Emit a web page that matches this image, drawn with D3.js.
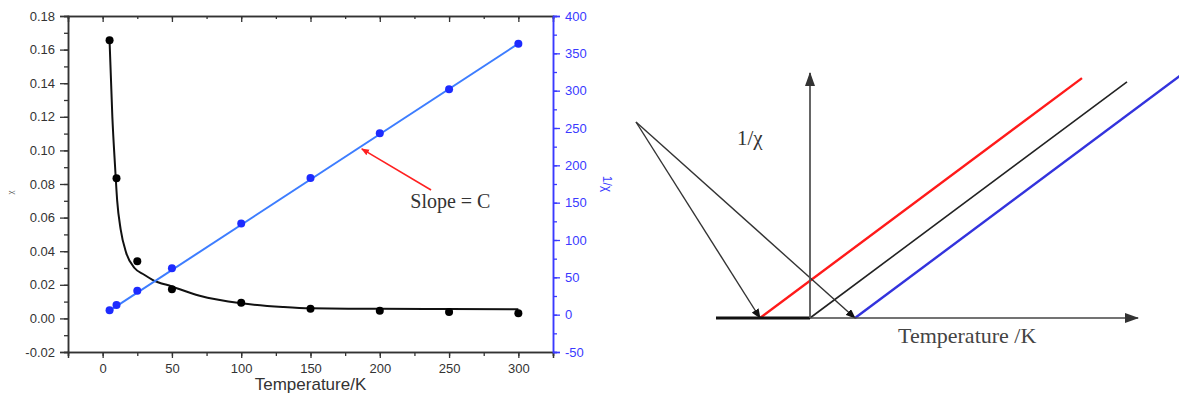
<!DOCTYPE html>
<html>
<head>
<meta charset="utf-8">
<script src="https://cdn.jsdelivr.net/npm/d3@7"></script>
<style>
  html, body { margin: 0; padding: 0; background: #fff; }
  svg { display: block; }
</style>
</head>
<body>
<div id="chart"></div>
<script>
// measured susceptibility (left panel)
const temps = [5, 10, 25, 50, 100, 150, 200, 250, 300];
const chiValues = [0.1655, 0.0834, 0.034, 0.0173, 0.0093, 0.0058, 0.0045, 0.0038, 0.003];
const invChiValues = [6, 13, 32, 62, 122, 183, 243, 302, 363];
// fitted curves
const chiFitT = [5, 7, 9, 10.5, 13, 17, 23, 30, 36, 50, 70, 100, 130, 150, 200, 250, 300];
const chiFitV = [0.165, 0.12, 0.09, 0.07, 0.053, 0.039, 0.03, 0.026, 0.023, 0.019, 0.0135, 0.009, 0.0068, 0.006, 0.0057, 0.0056, 0.0055];
const invFitT = [4, 300];
const invFitV = [4, 363];

const xTicks = [0, 50, 100, 150, 200, 250, 300];
const xMinor = d3.range(-25, 326, 25);
const yLeftTicks = [-0.02, 0, 0.02, 0.04, 0.06, 0.08, 0.10, 0.12, 0.14, 0.16, 0.18];
const yLeftMinor = d3.range(-0.02, 0.1801, 0.01);
const yRightTicks = [-50, 0, 50, 100, 150, 200, 250, 300, 350, 400];
const yRightMinor = d3.range(-50, 401, 25);

// schematic (right panel): Curie-Weiss lines 1/chi = (T - theta)/C
const cwTheta = [-50, 0, 45];
const cwEndT = [272, 317, 372];
const cwColors = ["#ff1a1a", "#222222", "#3333dd"];
const cwSlope = 0.745;
const apex = [-174, 196];

const W = 1179, H = 394;
let svg = d3.select("#chart").append("svg")
  .attr("width", W)
  .attr("height", H);

// ---------- left panel ----------
let margin = {top: 16, right: 626, bottom: 42, left: 68};
let x = d3.scaleLinear().domain([-25, 325]).range([margin.left, W - margin.right]);
let yL = d3.scaleLinear().domain([-0.02, 0.18]).range([H - margin.bottom, margin.top]);
let yR = d3.scaleLinear().domain([-50, 400]).range([H - margin.bottom, margin.top]);

const axisGrey = "#333";
const blueAxis = "#3a3aff";

function styleAxis(g, color) {
  g.select(".domain").attr("stroke", color).attr("stroke-width", 1.5);
  g.selectAll(".tick line").attr("stroke", color).attr("stroke-width", 1.3);
  g.selectAll(".tick text")
    .attr("fill", color)
    .style("font-family", "'Liberation Sans', Arial, sans-serif")
    .style("font-size", "13px");
}

// bottom
svg.append("g").attr("transform", `translate(0,${yL.range()[0]})`)
  .call(d3.axisBottom(x).tickValues(xMinor).tickSize(4).tickFormat(""))
  .call(g => styleAxis(g, axisGrey));
svg.append("g").attr("transform", `translate(0,${yL.range()[0]})`)
  .call(d3.axisBottom(x).tickValues(xTicks).tickSize(6).tickPadding(6).tickFormat(d => d))
  .call(g => styleAxis(g, axisGrey));
// top (mirror, ticks inside)
svg.append("g").attr("transform", `translate(0,${margin.top})`)
  .call(d3.axisBottom(x).tickValues(xMinor).tickSize(3).tickFormat(""))
  .call(g => styleAxis(g, axisGrey));
svg.append("g").attr("transform", `translate(0,${margin.top})`)
  .call(d3.axisBottom(x).tickValues(xTicks).tickSize(6).tickFormat(""))
  .call(g => styleAxis(g, axisGrey));
// left
svg.append("g").attr("transform", `translate(${margin.left},0)`)
  .call(d3.axisLeft(yL).tickValues(yLeftMinor).tickSize(4).tickFormat(""))
  .call(g => styleAxis(g, axisGrey));
svg.append("g").attr("transform", `translate(${margin.left},0)`)
  .call(d3.axisLeft(yL).tickValues(yLeftTicks).tickSize(8).tickPadding(5).tickFormat(d => d.toFixed(2)))
  .call(g => styleAxis(g, axisGrey));
// right (blue)
svg.append("g").attr("transform", `translate(${x.range()[1]},0)`)
  .call(d3.axisRight(yR).tickValues(yRightMinor).tickSize(4).tickFormat(""))
  .call(g => styleAxis(g, blueAxis));
svg.append("g").attr("transform", `translate(${x.range()[1]},0)`)
  .call(d3.axisRight(yR).tickValues(yRightTicks).tickSize(7).tickPadding(5).tickFormat(d => d))
  .call(g => styleAxis(g, blueAxis));

// axis titles
svg.append("text")
  .attr("x", (x.range()[0] + x.range()[1]) / 2)
  .attr("y", 390)
  .attr("text-anchor", "middle")
  .attr("fill", axisGrey)
  .style("font-family", "'Liberation Sans', Arial, sans-serif")
  .style("font-size", "17px")
  .text("Temperature/K");
svg.append("text")
  .attr("transform", `translate(13,${yL(0.075)}) rotate(-90)`)
  .attr("text-anchor", "middle")
  .attr("fill", "#555")
  .style("font-family", "'Liberation Serif', serif")
  .style("font-size", "9px")
  .text("χ");
svg.append("text")
  .attr("transform", `translate(603,${yR(175)}) rotate(90)`)
  .attr("text-anchor", "middle")
  .attr("fill", blueAxis)
  .style("font-family", "'Liberation Sans', Arial, sans-serif")
  .style("font-size", "12px")
  .text("1/χ");

// fits
let chiFit = chiFitT.map((t, i) => [t, chiFitV[i]]);
svg.append("path")
  .datum(chiFit)
  .attr("fill", "none")
  .attr("stroke", "#111")
  .attr("stroke-width", 2)
  .attr("d", d3.line().x(d => x(d[0])).y(d => yL(d[1])).curve(d3.curveMonotoneX));

let invFit = invFitT.map((t, i) => [t, invFitV[i]]);
svg.append("path")
  .datum(invFit)
  .attr("fill", "none")
  .attr("stroke", "#3d7dff")
  .attr("stroke-width", 2)
  .attr("d", d3.line().x(d => x(d[0])).y(d => yR(d[1])));

// points
svg.append("g").selectAll("circle")
  .data(temps.map((t, i) => [t, chiValues[i]]))
  .join("circle")
  .attr("cx", d => x(d[0]))
  .attr("cy", d => yL(d[1]))
  .attr("r", 4)
  .attr("fill", "#000");
svg.append("g").selectAll("circle")
  .data(temps.map((t, i) => [t, invChiValues[i]]))
  .join("circle")
  .attr("cx", d => x(d[0]))
  .attr("cy", d => yR(d[1]))
  .attr("r", 4)
  .attr("fill", "#1d2bff");

// slope annotation
let defs = svg.append("defs");
defs.append("marker")
  .attr("id", "redhead")
  .attr("viewBox", "0 0 10 10")
  .attr("refX", 9).attr("refY", 5)
  .attr("markerWidth", 5).attr("markerHeight", 5)
  .attr("orient", "auto")
  .append("path").attr("d", "M0,1 L10,5 L0,9 Z").attr("fill", "#ff2020");
svg.append("line")
  .attr("x1", x(237)).attr("y1", yR(167))
  .attr("x2", x(187)).attr("y2", yR(222))
  .attr("stroke", "#ff2020")
  .attr("stroke-width", 1.6)
  .attr("marker-end", "url(#redhead)");
svg.append("text")
  .attr("x", x(222))
  .attr("y", 208)
  .attr("fill", "#333")
  .style("font-family", "'Liberation Serif', 'Times New Roman', serif")
  .style("font-size", "20px")
  .text("Slope = C");

// ---------- right panel (schematic) ----------
let sX = d3.scaleLinear().domain([-94, 369]).range([716, 1179]);
let sY = d3.scaleLinear().domain([0, 250]).range([318, 68]);

defs.append("marker")
  .attr("id", "axhead")
  .attr("viewBox", "0 0 14 10")
  .attr("refX", 13).attr("refY", 5)
  .attr("markerWidth", 14).attr("markerHeight", 10)
  .attr("markerUnits", "userSpaceOnUse")
  .attr("orient", "auto")
  .append("path").attr("d", "M0,0 L14,5 L0,10 Z").attr("fill", "#333");
defs.append("marker")
  .attr("id", "smallhead")
  .attr("viewBox", "0 0 10 8")
  .attr("refX", 9).attr("refY", 4)
  .attr("markerWidth", 10).attr("markerHeight", 8)
  .attr("markerUnits", "userSpaceOnUse")
  .attr("orient", "auto")
  .append("path").attr("d", "M0,0 L10,4 L0,8 Z").attr("fill", "#111");

// Curie-Weiss lines
svg.append("g").selectAll("line")
  .data(cwTheta.map((th, i) => ({theta: th, end: cwEndT[i], color: cwColors[i]})))
  .join("line")
  .attr("x1", d => sX(d.theta)).attr("y1", sY(0))
  .attr("x2", d => sX(d.end)).attr("y2", d => sY((d.end - d.theta) * cwSlope))
  .attr("stroke", d => d.color)
  .attr("stroke-width", d => d.theta === 0 ? 1.6 : 2.4);

// construction lines from apex to the two intercepts
svg.append("g").selectAll("line")
  .data([cwTheta[0], cwTheta[2]])
  .join("line")
  .attr("x1", sX(apex[0])).attr("y1", sY(apex[1]))
  .attr("x2", d => sX(d)).attr("y2", sY(0))
  .attr("stroke", "#333")
  .attr("stroke-width", 1.4)
  .attr("marker-end", "url(#smallhead)");

// axes
svg.append("line")
  .attr("x1", sX(-94)).attr("y1", sY(0))
  .attr("x2", sX(0)).attr("y2", sY(0))
  .attr("stroke", "#111").attr("stroke-width", 3);
svg.append("line")
  .attr("x1", sX(0)).attr("y1", sY(0))
  .attr("x2", sX(328)).attr("y2", sY(0))
  .attr("stroke", "#444").attr("stroke-width", 1.6)
  .attr("marker-end", "url(#axhead)");
svg.append("line")
  .attr("x1", sX(0)).attr("y1", sY(0))
  .attr("x2", sX(0)).attr("y2", sY(245))
  .attr("stroke", "#555").attr("stroke-width", 1.8)
  .attr("marker-end", "url(#axhead)");

svg.append("text")
  .attr("x", sX(-73))
  .attr("y", sY(173))
  .attr("fill", "#333")
  .style("font-family", "'Liberation Serif', 'Times New Roman', serif")
  .style("font-size", "21px")
  .text("1/χ");
svg.append("text")
  .attr("x", sX(88))
  .attr("y", 343)
  .attr("fill", "#444")
  .style("font-family", "'Liberation Serif', 'Times New Roman', serif")
  .style("font-size", "22px")
  .text("Temperature /K");
</script>
</body>
</html>
